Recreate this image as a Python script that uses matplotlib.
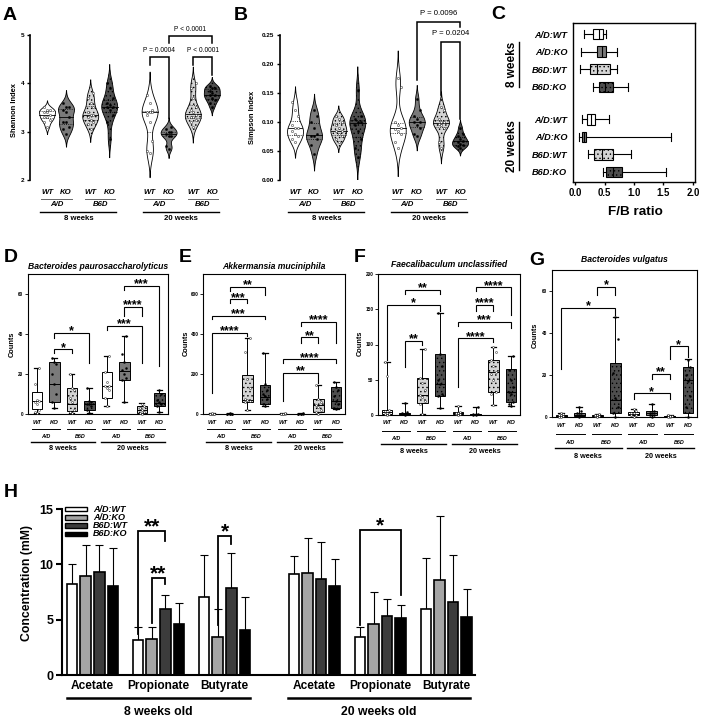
import numpy as np
import matplotlib.pyplot as plt
from matplotlib import transforms
from matplotlib.patches import Rectangle

# ── Canvas ────────────────────────────────────────────────────────────────────
W, H = 706, 719
plt.rcParams["font.family"] = ["Liberation Sans", "DejaVu Sans"]
plt.rcParams["font.weight"] = "bold"
plt.rcParams["hatch.linewidth"] = 0.5

# ── Data ──────────────────────────────────────────────────────────────────────
GENO = ["WT", "KO"]
STRAINS = ["A/D", "B6D"]
AGES = ["8 weeks", "20 weeks"]
ROW_LABELS = ["A/D:WT", "A/D:KO", "B6D:WT", "B6D:KO"]

# A: Shannon index per mouse (8w A/D WT, A/D KO, B6D WT, B6D KO, then 20w)
shannon = [
    [3.10, 3.20, 3.25, 3.30, 3.35, 3.40, 3.40, 3.45, 3.45, 3.50, 3.30],
    [2.95, 3.05, 3.10, 3.20, 3.20, 3.30, 3.40, 3.45, 3.50, 3.50, 3.60],
    [3.05, 3.15, 3.20, 3.25, 3.30, 3.35, 3.35, 3.40, 3.50, 3.60, 3.70, 3.80],
    [2.85, 3.20, 3.35, 3.45, 3.50, 3.50, 3.55, 3.60, 3.70, 3.90, 4.00],
    [2.55, 2.60, 2.80, 3.20, 3.35, 3.40, 3.40, 3.40, 3.45, 3.60, 3.75],
    [2.65, 2.70, 2.90, 2.92, 2.95, 3.00, 3.00, 3.05, 3.10],
    [3.10, 3.20, 3.25, 3.30, 3.30, 3.35, 3.40, 3.45, 3.50, 3.70, 3.90, 4.00],
    [3.50, 3.60, 3.65, 3.70, 3.75, 3.75, 3.80, 3.85, 3.90, 3.90, 3.95],
]
# B: Simpson index per mouse
simpson = [
    [0.065, 0.070, 0.075, 0.080, 0.085, 0.090, 0.090, 0.095, 0.110, 0.120, 0.135],
    [0.045, 0.060, 0.070, 0.075, 0.075, 0.080, 0.090, 0.100, 0.110, 0.120],
    [0.065, 0.070, 0.075, 0.080, 0.085, 0.085, 0.090, 0.095, 0.100, 0.105, 0.110],
    [0.040, 0.055, 0.070, 0.085, 0.095, 0.100, 0.100, 0.105, 0.110, 0.155],
    [0.055, 0.065, 0.080, 0.085, 0.088, 0.090, 0.095, 0.100, 0.160, 0.175],
    [0.075, 0.080, 0.090, 0.095, 0.100, 0.100, 0.105, 0.110, 0.120, 0.140],
    [0.055, 0.065, 0.090, 0.095, 0.097, 0.100, 0.100, 0.105, 0.120, 0.125],
    [0.055, 0.058, 0.060, 0.062, 0.065, 0.068, 0.070, 0.075, 0.080, 0.090],
]
# C: F/B ratio box stats (whisker low, q1, median, q3, whisker high)
fb_ratio = [
    (0.15, 0.30, 0.40, 0.48, 0.53),
    (0.10, 0.38, 0.45, 0.53, 0.72),
    (0.08, 0.26, 0.37, 0.60, 0.72),
    (0.30, 0.40, 0.50, 0.65, 0.90),
    (0.12, 0.20, 0.27, 0.34, 0.57),
    (0.07, 0.12, 0.15, 0.19, 1.62),
    (0.22, 0.33, 0.45, 0.65, 0.95),
    (0.47, 0.53, 0.65, 0.80, 1.55),
]
# D-G: counts box stats and individual points
bact_pauro = [
    (0.3, 2.3, 6.5, 11, 23), (3, 6, 15, 26, 28), (0.3, 1.5, 5, 13, 20), (0.3, 2, 5, 6.5, 13),
    (4, 8, 14, 21, 29), (6, 17, 21.7, 26, 39), (0, 0.7, 2, 4, 5.3), (1, 4, 5.7, 10.3, 12),
]
bact_pauro_pts = [
    [0.3, 1, 2, 5, 6, 6.5, 7, 15, 23], [3, 6, 10, 15, 20, 25, 26, 28], [0.3, 1, 2, 6, 8, 12, 13, 20],
    [0.3, 2, 4, 5, 5, 6, 6.5, 13], [4, 8, 12, 13, 14, 14, 16, 21, 29], [6, 17, 18, 20, 22, 23, 26, 30, 39],
    [0, 0.5, 1, 2, 3, 4, 5], [1, 4, 5, 6, 7, 10, 12],
]
akkermansia = [
    (0, 0, 1, 2, 3), (0, 0, 1, 2, 3), (20, 62, 72, 195, 380), (40, 50, 87, 145, 307),
    (0, 0, 1, 2, 3), (0, 0, 1, 2, 3), (0, 12, 45, 73, 145), (25, 28, 67, 133, 158),
]
akkermansia_pts = [
    [0, 0, 1, 1, 2, 2, 3], [0, 0, 1, 1, 2, 2, 3], [20, 62, 65, 70, 75, 130, 175, 310, 380],
    [40, 50, 75, 90, 100, 120, 150, 307], [0, 0, 1, 1, 2, 3], [0, 0, 1, 1, 2, 3],
    [0, 12, 20, 35, 45, 60, 73, 145], [25, 28, 50, 67, 90, 120, 135, 158],
]
faecalibaculum = [
    (0, 2, 4.7, 7, 74.5), (0, 1, 2, 3.3, 17.5), (1.5, 16.5, 29, 52, 93), (9.4, 27, 44, 86, 144),
    (0, 1, 2.4, 3.8, 12.7), (0, 0.3, 1, 1.5, 10.8), (14, 33, 61, 78, 96), (12.7, 18.9, 33, 64.6, 83.5),
]
faecalibaculum_pts = [
    [0, 1, 2, 3, 5, 7, 55, 74.5], [0, 1, 2, 2, 3, 4, 17.5], [1.5, 16, 20, 25, 29, 35, 45, 52, 93],
    [9.4, 27, 30, 44, 50, 70, 86, 144], [0, 1, 2, 2.4, 3, 4, 12.7], [0, 0.5, 1, 1, 2, 10.8],
    [14, 30, 33, 50, 58, 61, 70, 78, 90, 96], [12.7, 15, 19, 30, 33, 40, 50, 64, 83],
]
vulgatus = [
    (0, 0.2, 0.5, 1, 2), (0, 0.5, 1, 2, 5), (0, 0.3, 0.6, 1, 1.5), (0, 2, 8, 25.5, 47.6),
    (0, 1, 1.5, 2.5, 4), (0, 1, 2, 3, 6), (0, 0.2, 0.4, 0.6, 1), (0, 2, 17.5, 23.7, 27.4),
]
vulgatus_pts = [
    [0, 0, 0.5, 1, 1, 1.5, 2], [0, 0.5, 1, 1, 2, 3, 5], [0, 0.3, 0.5, 1, 1, 1.5],
    [0, 2, 5, 9, 21, 37, 47.6], [0, 1, 1, 2, 2, 3, 4], [0, 1, 1, 2, 2, 3, 6],
    [0, 0, 0.5, 0.5, 1], [0, 5, 10, 17, 20, 24, 27],
]
# H: SCFA concentration (mM), groups: 8w acetate, propionate, butyrate, 20w same
ACIDS = ["Acetate", "Propionate", "Butyrate"]
ad_wt_mean = [8.18, 3.18, 7.03, 9.15, 3.39, 6.00]
ad_ko_mean = [8.94, 3.24, 3.39, 9.24, 4.60, 8.55]
b6d_wt_mean = [9.33, 6.00, 7.88, 8.70, 5.36, 6.58]
b6d_ko_mean = [8.03, 4.60, 4.03, 8.03, 5.15, 5.24]
ad_wt_sd = [1.82, 1.15, 3.82, 1.61, 0.94, 4.55]
ad_ko_sd = [2.82, 1.09, 2.61, 3.12, 2.88, 5.78]
b6d_wt_sd = [2.43, 1.27, 3.12, 3.36, 1.52, 4.24]
b6d_ko_sd = [3.47, 1.90, 3.03, 2.42, 1.15, 2.49]

# significance: (group a, group b, top, foot a, foot b, label)
sig_a = [(4, 5, 4.55, 4.38, 3.28, "P = 0.0004"), (6, 7, 4.55, 4.38, 4.17, "P < 0.0001"),
         (5, 7, 4.97, 4.84, 4.84, "P < 0.0001")]
sig_b = [(5, 7, 0.273, 0.172, 0.264, "P = 0.0096"), (6, 7, 0.2385, 0.1466, 0.106, "P = 0.0204")]
sig_d = [(1, 2, 32.3, 30.3, 30.3, "*"), (1, 3, 40.4, 38.2, 25.6, "*"), (4, 6, 44, 42, 25.6, "***"),
         (5, 6, 53.4, 48.8, 48.8, "****"), (5, 7, 64, 61.8, 24.2, "***")]
sig_e = [(1, 3, 636, 617, 595, "**"), (1, 2, 573, 553, 553, "***"), (0, 3, 492, 475, 475, "***"),
         (0, 2, 407, 105, 390, "****"), (5, 7, 462, 442, 355, "****"), (5, 6, 383, 357, 357, "**"),
         (4, 7, 273, 255, 255, "****"), (4, 6, 207, 67, 155, "**")]
sig_f = [(1, 3, 178, 172, 172, "**"), (0, 3, 156, 78, 148, "*"), (1, 2, 105, 68, 100, "**"),
         (5, 7, 181, 176, 142, "****"), (5, 6, 156, 148, 148, "****"), (4, 7, 132, 126.5, 123.6, "***"),
         (4, 6, 108.6, 40, 104, "****")]
sig_g = [(2, 3, 61.8, 58.3, 58.3, "*"), (0, 3, 52, 23, 48.5, "*"), (6, 7, 33.6, 27.7, 28.5, "*"),
         (5, 6, 20.6, 18.2, 18.2, "**"), (4, 6, 11.2, 8.8, 8.8, "*")]
# H: ((group, bar), (group, bar), top, foot a, foot b, label)
sig_h = [((1, 0), (1, 2), 13.03, 3.73, 12.1, "**"), ((1, 1), (1, 2), 8.79, 4.7, 8.18, "**"),
         ((2, 1), (2, 2), 12.58, 4.55, 11.8, "*"), ((4, 0), (4, 3), 13.1, 4.55, 7.27, "*")]

# ── Styles ────────────────────────────────────────────────────────────────────
FILLS = ["white", "#7a7a7a", "#d4d4d4", "#4e4e4e"]
HATCHES = [None, None, "....", "...."]
PT_FILLS = ["white", "black", "white", "black"]
BAR_FILLS = ["white", "#a5a5a5", "#3c3c3c", "black"]
VPOS = [0, 1, 2.3, 3.3, 5.4, 6.4, 7.7, 8.7]

fig = plt.figure(figsize=(W / 100, H / 100), dpi=100)


def rect(x0, y0, x1, y1):
    return [x0 / W, 1 - y1 / H, (x1 - x0) / W, (y1 - y0) / H]


def fy(y):
    return 1 - y / H


def spread(vals, step):
    offs = np.zeros(len(vals))
    for rank, idx in enumerate(np.argsort(vals, kind="stable")):
        offs[idx] = (0, -1, 1)[rank % 3] * step
    return offs


def violin(ax, vals, pos, half, k):
    vals = np.asarray(vals, float)
    bw = 0.75 * 1.06 * vals.std(ddof=1) * len(vals) ** -0.2
    ys = np.linspace(vals.min() - 2.5 * bw, vals.max() + 2.5 * bw, 300)
    dens = np.exp(-0.5 * ((ys[:, None] - vals[None, :]) / bw) ** 2).sum(axis=1)
    w = dens / dens.max() * half
    ax.fill_betweenx(ys, pos - w, pos + w, facecolor=FILLS[k], edgecolor="black",
                     lw=0.6, hatch=HATCHES[k], zorder=2)
    q1, med, q3 = np.percentile(vals, [25, 50, 75])
    for q, ls in ((q1, ":"), (med, "-"), (q3, ":")):
        wq = np.interp(q, ys, w)
        ax.plot([pos - wq, pos + wq], [q, q], color="black", lw=0.6, ls=ls, zorder=3)
    ax.scatter(pos + spread(vals, half * 0.35), vals, s=2.5, facecolor=PT_FILLS[k],
               edgecolor="black", lw=0.3, zorder=4)


def group_labels(ax, pos, rows, fs_geno, fs_strain, fs_age, pair_color):
    y_geno, y_pair, y_strain, y_line, y_age = rows
    tr = transforms.blended_transform_factory(ax.transData, fig.transFigure)
    for i, p in enumerate(pos):
        ax.text(p, fy(y_geno), GENO[i % 2], transform=tr, ha="center", va="center",
                fontsize=fs_geno, style="italic")
    for k in range(4):
        a, b = pos[2 * k], pos[2 * k + 1]
        ax.plot([a - 0.3, b + 0.3], [fy(y_pair)] * 2, transform=tr, color=pair_color,
                lw=0.7, clip_on=False)
        ax.text((a + b) / 2, fy(y_strain), STRAINS[k % 2], transform=tr, ha="center",
                va="center", fontsize=fs_strain, style="italic")
    for k in range(2):
        a, b = pos[4 * k], pos[4 * k + 3]
        ax.plot([a - 0.35, b + 0.35], [fy(y_line)] * 2, transform=tr, color="black",
                lw=1.0, clip_on=False)
        ax.text((a + b) / 2, fy(y_age), AGES[k], transform=tr, ha="center",
                va="center", fontsize=fs_age)


def bracket(ax, xa, xb, top, foot_a, foot_b, label, fs, lw, gap_pt):
    ax.plot([xa, xa, xb, xb], [foot_a, top, top, foot_b], color="black", lw=lw,
            clip_on=False, solid_joinstyle="miter")
    if label.startswith("P"):
        ax.annotate(label, ((xa + xb) / 2, top), xytext=(0, gap_pt), textcoords="offset points",
                    ha="center", va="center", fontsize=fs, weight="normal", annotation_clip=False)
    else:
        ax.annotate(label, ((xa + xb) / 2, top), xytext=(0, gap_pt - 0.58 * fs),
                    textcoords="offset points", ha="center", va="baseline", fontsize=fs,
                    annotation_clip=False)


def panel_letter(x, y, s):
    fig.text(x / W, fy(y), s, fontsize=14, ha="left", va="top")


def ylabel(x, y, s, fs):
    fig.text(x / W, fy(y), s, rotation=90, ha="center", va="center", fontsize=fs)


# ── A / B: violins ────────────────────────────────────────────────────────────
def violin_panel(box, xlim, data, ylim, yticks, fmt, sigs, fs_p, gap_p):
    ax = fig.add_axes(rect(*box))
    for i, vals in enumerate(data):
        violin(ax, vals, VPOS[i], 0.42, i % 4)
    ax.set_xlim(*xlim)
    ax.set_ylim(*ylim)
    ax.set_yticks(yticks)
    ax.set_yticklabels([fmt.format(t) for t in yticks])
    ax.set_xticks([])
    for s in ("top", "right", "bottom"):
        ax.spines[s].set_visible(False)
    ax.spines["left"].set_linewidth(1.2)
    ax.tick_params(axis="y", labelsize=4.6, width=1, length=2.5, pad=1.5)
    for a, b, top, fa, fb, lab in sigs:
        bracket(ax, VPOS[a], VPOS[b], top, fa, fb, lab, fs_p, 1.1, gap_p)
    group_labels(ax, VPOS, (192, 199, 205, 212, 219), 5.6, 5.6, 5.6, "#666666")
    return ax


violin_panel((30, 35, 222, 180), (-0.895, 9.21), shannon, (2, 5), [2, 3, 4, 5], "{:g}",
             sig_a, 4.8, 4.8)
violin_panel((280, 35, 470, 180), (-0.79, 9.2), simpson, (0, 0.25),
             [0, 0.05, 0.10, 0.15, 0.20, 0.25], "{:.2f}", sig_b, 5.6, 6.0)
panel_letter(3, 7, "A")
panel_letter(234, 7, "B")
ylabel(15, 110, "Shannon Index", 5.4)
ylabel(253, 117, "Simpson Index", 5.4)

# ── C: F/B ratio ──────────────────────────────────────────────────────────────
axc = fig.add_axes(rect(573, 23, 695, 182))
cpos = [0, 1, 2, 3, 4.85, 5.85, 6.85, 7.85]
cstats = [dict(whislo=s[0], q1=s[1], med=s[2], q3=s[3], whishi=s[4], fliers=[]) for s in fb_ratio]
bp = axc.bxp(cstats, positions=cpos, widths=0.6, orientation="horizontal", patch_artist=True,
             showfliers=False, capwidths=0.45, boxprops=dict(lw=0.8), whiskerprops=dict(lw=0.8),
             capprops=dict(lw=0.8), medianprops=dict(color="black", lw=0.8))
for i, patch in enumerate(bp["boxes"]):
    patch.set_facecolor(FILLS[i % 4])
    patch.set_hatch(HATCHES[i % 4])
axc.set_xlim(-0.034, 2.034)
axc.set_ylim(8.42, -0.63)
axc.set_xticks([0, 0.5, 1.0, 1.5, 2.0])
axc.set_xticklabels(["0.0", "0.5", "1.0", "1.5", "2.0"])
axc.set_yticks(cpos)
axc.set_yticklabels(ROW_LABELS * 2, style="italic")
axc.tick_params(axis="x", labelsize=6.9, width=1, length=2.5, pad=2)
axc.tick_params(axis="y", labelsize=6.6, length=0, pad=4)
for s in axc.spines.values():
    s.set_linewidth(1.0)
fig.text(635 / W, fy(212), "F/B ratio", ha="center", va="center", fontsize=9.7)
for label, yc, (ya, yb) in (("8 weeks", 64, (42, 87)), ("20 weeks", 146, (122, 170))):
    fig.text(512 / W, fy(yc), label, rotation=90, ha="center", va="center", fontsize=8.5)
    fig.add_artist(plt.Line2D([519 / W, 519 / W], [fy(ya), fy(yb)], color="black", lw=1.0))
panel_letter(491, 6, "C")


# ── D-G: counts boxes ─────────────────────────────────────────────────────────
def box_panel(box, stats, pts, ylim, yticks, sigs, title, title_y, rows):
    ax = fig.add_axes(rect(*box))
    bstats = [dict(whislo=s[0], q1=s[1], med=s[2], q3=s[3], whishi=s[4], fliers=[]) for s in stats]
    bp = ax.bxp(bstats, positions=range(8), widths=0.6, patch_artist=True, showfliers=False,
                capwidths=0.3, boxprops=dict(lw=0.7), whiskerprops=dict(lw=0.7),
                capprops=dict(lw=0.9), medianprops=dict(color="black", lw=0.7))
    for i, patch in enumerate(bp["boxes"]):
        patch.set_facecolor(FILLS[i % 4])
        patch.set_hatch(HATCHES[i % 4])
    for i, vals in enumerate(pts):
        vals = np.asarray(vals, float)
        ax.scatter(i + spread(vals, 0.12), vals, s=2.0, facecolor=PT_FILLS[i % 4],
                   edgecolor="black", lw=0.3, zorder=4, clip_on=False)
    ax.set_xlim(-0.5, 7.5)
    ax.set_ylim(*ylim)
    ax.set_yticks(yticks)
    ax.set_xticks([])
    ax.tick_params(axis="y", labelsize=3.4, width=0.6, length=2, pad=1.2)
    for s in ax.spines.values():
        s.set_linewidth(0.8)
    for a, b, top, fa, fb, lab in sigs:
        bracket(ax, a, b, top, fa, fb, lab, 9, 0.8, 4.3)
    x0, x1 = box[0], box[2]
    fig.text((x0 + x1) / 2 / W, fy(title_y), title, ha="center", va="center", fontsize=6.2,
             style="italic")
    group_labels(ax, list(range(8)), rows, 4.2, 3.9, 5.2, "black")
    return ax


box_panel((28, 274, 168, 414), bact_pauro, bact_pauro_pts, (0, 70), [0, 20, 40, 60], sig_d,
          "Bacteroides paurosaccharolyticus", 266, (422, 429, 436, 442, 449))
box_panel((203, 274, 345, 414), akkermansia, akkermansia_pts, (0, 700), [0, 200, 400, 600], sig_e,
          "Akkermansia muciniphila", 266, (422, 429, 436, 442, 449))
box_panel((378, 274, 520, 415), faecalibaculum, faecalibaculum_pts, (0, 200),
          [0, 50, 100, 150, 200], sig_f, "Faecalibaculum unclassified", 264,
          (423, 431, 438, 444, 452))
box_panel((552, 270, 697, 417), vulgatus, vulgatus_pts, (0, 70), [0, 20, 40, 60], sig_g,
          "Bacteroides vulgatus", 260, (426, 434, 442, 448, 456))
for x, y, s in ((4, 249, "D"), (179, 249, "E"), (354, 249, "F"), (529, 252, "G")):
    panel_letter(x, y, s)
for x, y in ((12, 344), (186, 343), (360.5, 343), (535, 335)):
    ylabel(x, y, "Counts", 5.3)

# ── H: SCFA bars ──────────────────────────────────────────────────────────────
axh = fig.add_axes(rect(62, 509, 475, 675))
HPOS = np.array([0, 1, 2, 3.36, 4.36, 5.36])
OFFS = np.array([-1.5, -0.5, 0.5, 1.5]) * 0.205
means = [ad_wt_mean, ad_ko_mean, b6d_wt_mean, b6d_ko_mean]
sds = [ad_wt_sd, ad_ko_sd, b6d_wt_sd, b6d_ko_sd]
for j in range(4):
    xs = HPOS + OFFS[j]
    axh.errorbar(xs, means[j], yerr=[np.zeros(6), sds[j]], fmt="none", ecolor="black",
                 elinewidth=0.8, capsize=3, capthick=0.8, zorder=1)
    axh.bar(xs, means[j], width=0.16, color=BAR_FILLS[j], edgecolor="black", lw=1.2, zorder=2)
axh.set_xlim(-0.462, 5.795)
axh.set_ylim(0, 15)
axh.set_yticks([0, 5, 10, 15])
axh.set_xticks([])
for s in ("top", "right"):
    axh.spines[s].set_visible(False)
for s in ("left", "bottom"):
    axh.spines[s].set_linewidth(1.5)
axh.tick_params(axis="y", labelsize=9, width=1.5, length=4, pad=2)
for (ga, ba), (gb, bb), top, fa, fb, lab in sig_h:
    bracket(axh, HPOS[ga] + OFFS[ba], HPOS[gb] + OFFS[bb], top, fa, fb, lab, 15, 1.3, 7.7)
trh = transforms.blended_transform_factory(axh.transData, fig.transFigure)
for g, x in enumerate(HPOS):
    axh.text(x, fy(686), ACIDS[g % 3], transform=trh, ha="center", va="center", fontsize=8.6)
for k, (a, b) in enumerate(((HPOS[0] - 0.386, HPOS[2] + 0.386), (HPOS[3] - 0.4, HPOS[5] + 0.36))):
    axh.plot([a, b], [fy(698)] * 2, transform=trh, color="black", lw=1.8, clip_on=False)
    axh.text((a + b) / 2, fy(712), AGES[k] + " old", transform=trh, ha="center", va="center",
             fontsize=8.8)
for j, yc in enumerate((509, 517.3, 525.7, 534)):
    fig.add_artist(Rectangle((65 / W, fy(yc + 2.4)), 22 / W, 4.8 / H, transform=fig.transFigure,
                             facecolor=BAR_FILLS[j], edgecolor="black", lw=1.0))
    fig.text(93 / W, fy(yc), ROW_LABELS[j], ha="left", va="center", fontsize=6.5, style="italic")
ylabel(27, 583, "Concentration (mM)", 8.8)
panel_letter(4, 484, "H")

fig.savefig("out.png", dpi=100, facecolor="white")
